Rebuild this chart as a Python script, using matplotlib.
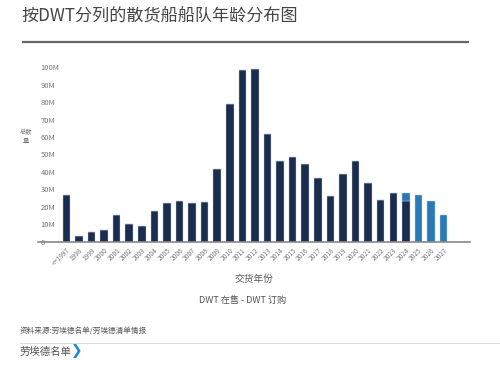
import matplotlib
matplotlib.use('Agg')
import matplotlib.pyplot as plt
import numpy as np

plt.rcParams['font.family'] = ['Noto Sans CJK SC', 'DejaVu Sans']

# data (million DWT)
years = ['<=1997', '1998', '1999', '2000', '2001', '2002', '2003', '2004', '2005',
         '2006', '2007', '2008', '2009', '2010', '2011', '2012', '2013', '2014',
         '2015', '2016', '2017', '2018', '2019', '2020', '2021', '2022', '2023',
         '2024', '2025', '2026', '2027']
in_service = [27.0, 3.5, 5.5, 7.0, 15.3, 10.5, 9.3, 17.6, 22.0, 23.2, 22.4, 23.0,
              41.6, 79.1, 98.2, 98.7, 61.6, 46.3, 48.3, 44.5, 36.4, 26.4, 38.7,
              46.4, 33.9, 24.1, 28.1, 23.4, 0, 0, 0]
orderbook = [0, 0, 0, 0, 0, 0, 0, 0, 0, 0, 0, 0, 0, 0, 0, 0, 0, 0, 0, 0, 0, 0, 0,
             0, 0, 0, 0, 4.7, 26.8, 23.2, 15.7]
yticks = [0, 10, 20, 30, 40, 50, 60, 70, 80, 90, 100]
ytick_labels = ['0', '10M', '20M', '30M', '40M', '50M', '60M', '70M', '80M', '90M', '100M']

navy = '#1b2d4e'
blue = '#2a79b9'

fig = plt.figure(figsize=(5, 3.79), dpi=100)
fig.patch.set_facecolor('white')

fig.text(0.042, 0.955, '按DWT分列的散货船船队年龄分布图', fontsize=12.3, color='#444444',
         ha='left', va='center')
fig.add_artist(plt.Line2D([0.046, 0.936], [0.889, 0.889], color='#666666', lw=1.6))

ax = fig.add_axes([0.076, 0.3615, 0.864, 0.4617])
x = np.arange(len(years))
ax.bar(x, in_service, width=0.6, color=navy, edgecolor='#c8ccd4', linewidth=0.3)
ax.bar(x, orderbook, width=0.6, bottom=in_service, color=blue, edgecolor='#c8ccd4', linewidth=0.3)

ax.set_xlim(-2.25, 32.1)
ax.set_ylim(0, 100)
for s in ['top', 'right', 'left']:
    ax.spines[s].set_visible(False)
ax.spines['bottom'].set_color('#888888')
ax.spines['bottom'].set_linewidth(1.2)

ax.set_yticks(yticks)
ax.set_yticklabels(ytick_labels)
ax.tick_params(axis='y', length=0, pad=-2, labelsize=5.5, labelcolor='#777777')
for lbl in ax.get_yticklabels():
    lbl.set_ha('left')

ax.set_xticks(x)
ax.set_xticklabels(years, rotation=45, ha='right', rotation_mode='anchor')
ax.tick_params(axis='x', length=0, pad=3, labelsize=4.8, labelcolor='#777777')

fig.text(0.052, 0.64, '总数\n量', fontsize=4.5, color='#777777', ha='center', va='center',
         linespacing=1.1)
ax.set_xlabel('交货年份', fontsize=7, color='#555555', labelpad=5)

fig.text(0.486, 0.208, 'DWT 在售 - DWT 订购', fontsize=6.6, color='#555555', ha='center', va='center')
fig.text(0.04, 0.126, '资料来源:劳埃德名单/劳埃德清单情报', fontsize=5.5, color='#555555',
         ha='left', va='center')
fig.add_artist(plt.Line2D([0.04, 1.0], [0.095, 0.095], color='#dddddd', lw=0.8))
fig.text(0.04, 0.071, '劳埃德名单', fontsize=7.5, color='#555555', ha='left', va='center')
fig.text(0.142, 0.073, '❯', fontsize=10, color='#1f84d6', ha='left', va='center',
         fontweight='bold', family=['DejaVu Sans'])

fig.savefig('out.png', dpi=100, facecolor='white')
